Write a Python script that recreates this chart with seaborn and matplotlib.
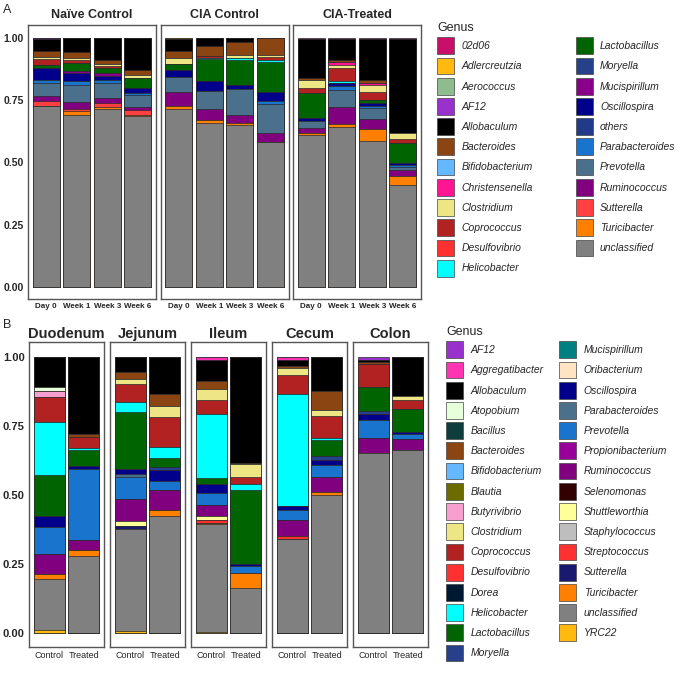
import pandas as pd
import seaborn as sns
import matplotlib.pyplot as plt
from matplotlib.patches import Patch

# ---------------- panel A: faecal samples over time ----------------
a_groups = ["Naïve Control", "CIA Control", "CIA-Treated"]
a_times = ["Day 0", "Week 1", "Week 3", "Week 6"]
a_genus = ["02d06", "Adlercreutzia", "Aerococcus", "AF12", "Allobaculum", "Bacteroides",
           "Bifidobacterium", "Christensenella", "Clostridium", "Coprococcus", "Desulfovibrio",
           "Helicobacter", "Lactobacillus", "Moryella", "Mucispirillum", "Oscillospira", "others",
           "Parabacteroides", "Prevotella", "Ruminococcus", "Sutterella", "Turicibacter", "unclassified"]
a_palette = ["#C8106A", "#FFB90F", "#8FBC8F", "#9932CC", "#000000", "#8B4513",
             "#63B8FF", "#FF1493", "#EEE685", "#B22222", "#FF3030",
             "#00FFFF", "#006400", "#27408B", "#8B008B", "#00008B", "#223A8A",
             "#1874CD", "#4A708B", "#800080", "#FF4040", "#FF7F00", "#808080"]

# relative abundance, 12 bars: Naive D0,W1,W3,W6 | CIA D0,W1,W3,W6 | Treated D0,W1,W3,W6
a_unclassified = [0.727, 0.691, 0.714, 0.685, 0.715, 0.660, 0.651, 0.584, 0.611, 0.642, 0.588, 0.409]
a_turicibacter = [0, 0.016, 0.008, 0.006, 0.010, 0.011, 0.007, 0, 0.009, 0.013, 0.046, 0.037]
a_sutterella = [0.018, 0.009, 0.016, 0.020, 0, 0, 0, 0, 0, 0, 0, 0]
a_ruminococcus = [0.020, 0.025, 0.019, 0.011, 0.060, 0.043, 0.033, 0.033, 0.018, 0.067, 0.040, 0.024]
a_prevotella = [0.054, 0.071, 0.064, 0.050, 0.058, 0.075, 0.104, 0.119, 0.030, 0.070, 0.044, 0.013]
a_parabacteroides = [0.013, 0.014, 0.011, 0.009, 0, 0, 0, 0.009, 0, 0.016, 0.010, 0.007]
a_oscillospira = [0.047, 0.033, 0.014, 0.018, 0.029, 0.037, 0.017, 0.038, 0.010, 0.011, 0.010, 0.009]
a_mucispirillum = [0, 0.007, 0.013, 0, 0, 0, 0, 0, 0, 0, 0, 0]
a_lactobacillus = [0.014, 0.033, 0.020, 0.040, 0.023, 0.089, 0.101, 0.121, 0.101, 0, 0.014, 0.078]
a_helicobacter = [0, 0, 0, 0, 0, 0.006, 0.006, 0.006, 0, 0.007, 0, 0]
a_coprococcus = [0.022, 0.014, 0.010, 0, 0, 0.008, 0, 0.013, 0.020, 0.053, 0.033, 0.016]
a_clostridium = [0.009, 0.006, 0.008, 0.013, 0.024, 0, 0.014, 0.010, 0.031, 0.011, 0.027, 0.027]
a_christensenella = [0, 0, 0, 0, 0, 0, 0, 0, 0, 0.012, 0.009, 0]
a_bacteroides = [0.022, 0.025, 0.016, 0.020, 0.027, 0.037, 0.050, 0.067, 0.009, 0.011, 0.011, 0]
a_allobaculum = [0.051, 0.056, 0.087, 0.128, 0.050, 0.034, 0.017, 0, 0.157, 0.083, 0.164, 0.376]
a_af12 = [0.003, 0, 0, 0, 0, 0, 0, 0, 0, 0, 0, 0]
a_adlercreutzia = [0, 0, 0, 0, 0.004, 0, 0, 0, 0, 0, 0, 0]
a_02d06 = [0, 0, 0, 0, 0, 0, 0, 0, 0.004, 0.004, 0.004, 0.004]

# ---------------- panel B: gut sections ----------------
b_sections = ["Duodenum", "Jejunum", "Ileum", "Cecum", "Colon"]
b_treat = ["Control", "Treated"]
b_genus = ["AF12", "Aggregatibacter", "Allobaculum", "Atopobium", "Bacillus", "Bacteroides",
           "Bifidobacterium", "Blautia", "Butyrivibrio", "Clostridium", "Coprococcus",
           "Desulfovibrio", "Dorea", "Helicobacter", "Lactobacillus", "Moryella",
           "Mucispirillum", "Oribacterium", "Oscillospira", "Parabacteroides", "Prevotella",
           "Propionibacterium", "Ruminococcus", "Selenomonas", "Shuttleworthia", "Staphylococcus",
           "Streptococcus", "Sutterella", "Turicibacter", "unclassified", "YRC22"]
b_palette = ["#9932CC", "#FF34B3", "#000000", "#E8FFDC", "#0F3D3D", "#8B4513",
             "#63B8FF", "#6B6B00", "#F7A0D0", "#EEE685", "#B22222",
             "#FF3030", "#001933", "#00FFFF", "#006400", "#27408B",
             "#008080", "#FFE4C4", "#00008B", "#4A708B", "#1874CD",
             "#990099", "#800080", "#330000", "#FFFF99", "#BEBEBE",
             "#FF3030", "#191970", "#FF7F00", "#808080", "#FFB90F"]

# 10 bars: Duodenum C,T | Jejunum C,T | Ileum C,T | Cecum C,T | Colon C,T
b_unclassified = [0.185, 0.278, 0.371, 0.423, 0.389, 0.161, 0.342, 0.499, 0.652, 0.664]
b_yrc22 = [0.012, 0, 0.007, 0, 0.005, 0, 0, 0, 0, 0]
b_turicibacter = [0.018, 0.024, 0, 0.024, 0.005, 0.056, 0, 0.012, 0, 0]
b_sutterella = [0, 0, 0.008, 0, 0, 0, 0, 0, 0, 0]
b_streptococcus = [0, 0, 0, 0, 0.009, 0, 0.008, 0, 0, 0]
b_shuttleworthia = [0, 0, 0.020, 0, 0.015, 0, 0, 0, 0, 0]
b_ruminococcus = [0.072, 0.036, 0.081, 0.070, 0.042, 0, 0.058, 0.054, 0.056, 0.040]
b_prevotella = [0.097, 0.257, 0.078, 0.034, 0.042, 0.025, 0.036, 0.042, 0.065, 0.016]
b_parabacteroides = [0, 0, 0.012, 0, 0, 0, 0, 0, 0, 0]
b_oscillospira = [0.039, 0.009, 0.018, 0.038, 0.034, 0.009, 0.015, 0.019, 0.019, 0.008]
b_moryella = [0, 0, 0, 0.012, 0, 0, 0, 0.014, 0.012, 0]
b_lactobacillus = [0.148, 0.058, 0.206, 0.031, 0.022, 0.266, 0, 0.058, 0.087, 0.085]
b_helicobacter = [0.193, 0.009, 0.036, 0.042, 0.229, 0.024, 0.406, 0.009, 0, 0]
b_coprococcus = [0.091, 0.039, 0.066, 0.109, 0.053, 0.024, 0.069, 0.078, 0.085, 0.032]
b_clostridium = [0, 0, 0.018, 0.038, 0.040, 0.046, 0.024, 0.024, 0, 0.012]
b_butyrivibrio = [0.020, 0, 0, 0, 0, 0, 0, 0, 0, 0]
b_bacteroides = [0, 0.010, 0.025, 0.046, 0.028, 0.005, 0.010, 0.067, 0.006, 0]
b_atopobium = [0.016, 0, 0, 0, 0, 0, 0, 0, 0, 0]
b_allobaculum = [0.109, 0.280, 0.054, 0.131, 0.075, 0.384, 0.020, 0.124, 0.008, 0.143]
b_aggregatibacter = [0, 0, 0, 0, 0.012, 0, 0.012, 0, 0, 0]
b_af12 = [0, 0, 0, 0.002, 0, 0, 0, 0, 0.010, 0]

a_values = {
    "unclassified": a_unclassified, "Turicibacter": a_turicibacter, "Sutterella": a_sutterella,
    "Ruminococcus": a_ruminococcus, "Prevotella": a_prevotella, "Parabacteroides": a_parabacteroides,
    "Oscillospira": a_oscillospira, "Mucispirillum": a_mucispirillum, "Lactobacillus": a_lactobacillus,
    "Helicobacter": a_helicobacter, "Coprococcus": a_coprococcus, "Clostridium": a_clostridium,
    "Christensenella": a_christensenella, "Bacteroides": a_bacteroides, "Allobaculum": a_allobaculum,
    "AF12": a_af12, "Adlercreutzia": a_adlercreutzia, "02d06": a_02d06,
}
b_values = {
    "unclassified": b_unclassified, "YRC22": b_yrc22, "Turicibacter": b_turicibacter,
    "Sutterella": b_sutterella, "Streptococcus": b_streptococcus, "Shuttleworthia": b_shuttleworthia,
    "Ruminococcus": b_ruminococcus, "Prevotella": b_prevotella, "Parabacteroides": b_parabacteroides,
    "Oscillospira": b_oscillospira, "Moryella": b_moryella, "Lactobacillus": b_lactobacillus,
    "Helicobacter": b_helicobacter, "Coprococcus": b_coprococcus, "Clostridium": b_clostridium,
    "Butyrivibrio": b_butyrivibrio, "Bacteroides": b_bacteroides, "Atopobium": b_atopobium,
    "Allobaculum": b_allobaculum, "Aggregatibacter": b_aggregatibacter, "AF12": b_af12,
}


def long_table(values, facets, xs):
    rows = []
    for g, vals in values.items():
        for i, v in enumerate(vals):
            rows.append({"facet": facets[i // len(xs)], "x": xs[i % len(xs)], "genus": g, "value": v})
    return pd.DataFrame(rows)


def draw_facet(ax, sub, xs, genus, palette, width):
    wide = sub.pivot(index="x", columns="genus", values="value")
    wide = wide.reindex(index=xs, columns=genus).fillna(0)
    # ggplot order: first genus on top, last at the bottom
    tops = wide[genus[::-1]].cumsum(axis=1)
    for g, c in zip(genus, palette):
        d = pd.DataFrame({"x": xs, "top": tops[g].values})
        sns.barplot(data=d, x="x", y="top", order=xs, color=c, saturation=1,
                    width=width, edgecolor="#2a2a2a", linewidth=0.5, ax=ax)


sns.set_theme(style="white")
plt.rcParams["font.family"] = ["Liberation Sans", "DejaVu Sans"]

fig = plt.figure(figsize=(6.89, 6.74), dpi=100)
W, H = 689, 674

dfa = long_table(a_values, a_groups, a_times)
dfb = long_table(b_values, b_sections, b_treat)

yt = [0, 0.25, 0.5, 0.75, 1.0]
ytl = ["0.00", "0.25", "0.50", "0.75", "1.00"]

for i, grp in enumerate(a_groups):
    left = 28 + i * 132.5
    ax = fig.add_axes([left / W, 1 - 299 / H, 128 / W, 274 / H])
    draw_facet(ax, dfa[dfa.facet == grp], a_times, a_genus, a_palette, 0.88)
    ax.set_xlim(-0.6, 3.6)
    ax.set_ylim(-0.048, 1.052)
    ax.set_title(grp, fontsize=9, fontweight="bold", pad=5)
    ax.set_xlabel("")
    ax.set_ylabel("")
    ax.set_yticks(yt)
    ax.set_yticklabels(ytl if i == 0 else [], fontsize=7.5, fontweight="bold")
    ax.tick_params(axis="x", labelsize=5.8, length=2, pad=1, color="#555555")
    ax.tick_params(axis="y", length=2, pad=1, color="#999999")
    for lab in ax.get_xticklabels():
        lab.set_fontweight("bold")
    for s in ax.spines.values():
        s.set_color("#555555")
        s.set_linewidth(1)

for i, sec in enumerate(b_sections):
    left = 29 + i * 81
    ax = fig.add_axes([left / W, 1 - 647 / H, 75 / W, 305 / H])
    draw_facet(ax, dfb[dfb.facet == sec], b_treat, b_genus, b_palette, 0.9)
    ax.set_xlim(-0.58, 1.58)
    ax.set_ylim(-0.051, 1.054)
    ax.set_title(sec, fontsize=10.5, fontweight="bold", pad=3)
    ax.set_xlabel("")
    ax.set_ylabel("")
    ax.set_yticks(yt)
    ax.set_yticklabels(ytl if i == 0 else [], fontsize=8, fontweight="bold")
    ax.tick_params(axis="x", labelsize=6.5, length=2, pad=1, color="#555555")
    ax.tick_params(axis="y", length=2, pad=1, color="#999999")
    for s in ax.spines.values():
        s.set_color("#555555")
        s.set_linewidth(1)

fig.text(3 / W, 1 - 4 / H, "A", fontsize=9, va="top")
fig.text(3 / W, 1 - 319 / H, "B", fontsize=9, va="top")

leg_a = [Patch(facecolor=c, edgecolor="#444444", linewidth=0.5) for c in a_palette]
fig.legend(leg_a, a_genus, ncol=2, loc="upper left", bbox_to_anchor=(437 / W, 1 - 22 / H),
           frameon=False, title="Genus", alignment="left", title_fontsize=9,
           prop={"style": "italic", "size": 7.5}, handlelength=1.65, handleheight=2.1,
           labelspacing=0.33, columnspacing=4.1, handletextpad=0.7, borderpad=0, borderaxespad=0)

leg_b = [Patch(facecolor=c, edgecolor="#444444", linewidth=0.5) for c in b_palette]
fig.legend(leg_b, b_genus, ncol=2, loc="upper left", bbox_to_anchor=(446 / W, 1 - 326 / H),
           frameon=False, title="Genus", alignment="left", title_fontsize=9,
           prop={"style": "italic", "size": 7.5}, handlelength=1.65, handleheight=2.1,
           labelspacing=0.33, columnspacing=1.5, handletextpad=0.7, borderpad=0, borderaxespad=0)

fig.savefig("out.png", dpi=100)
